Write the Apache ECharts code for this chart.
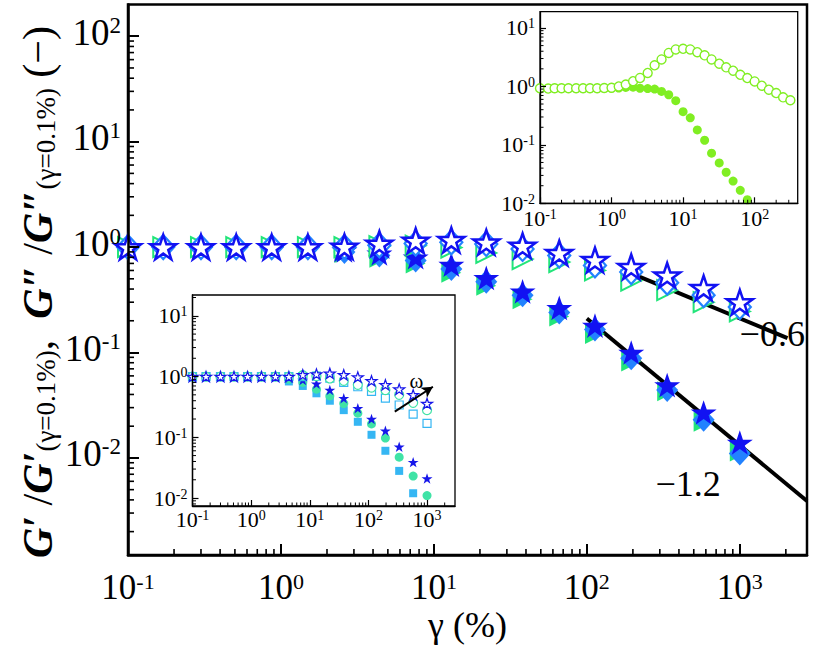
<!DOCTYPE html>
<html><head><meta charset="utf-8">
<script src="https://cdn.jsdelivr.net/npm/echarts@6/dist/echarts.min.js"></script>
<style>html,body{margin:0;padding:0;background:#fff}#c{width:814px;height:649px}</style>
</head><body><div id="c"></div>
<script>
// ---------- main plot data ----------
const gamma = [0.1, 0.17, 0.3, 0.51, 0.87, 1.5, 2.6, 4.4, 7.6, 13, 22, 38, 66, 113, 195, 335, 580, 1000];
const mainStarOpen = [1, 1, 1, 1, 1, 1, 1.01, 1.08, 1.15, 1.17, 1.11, 1.03, 0.88, 0.755, 0.65, 0.54, 0.41, 0.30];
const mainDiaOpen  = [1, 1, 1, 1, 1, 1, 1, 1.04, 1.08, 1.11, 1.07, 0.96, 0.83, 0.67, 0.58, 0.46, 0.35, 0.27];
const mainTriOpen  = [1, 1, 1, 1, 1, 1, 1, 1.02, 1.03, 0.99, 0.88, 0.77, 0.72, 0.60, 0.48, 0.39, 0.30, 0.245];
const mainStarFill = [1, 1, 1, 1, 1, 1, 0.93, 0.87, 0.80, 0.68, 0.51, 0.38, 0.265, 0.18, 0.10, 0.049, 0.027, 0.014];
const mainDiaFill  = [1, 1, 1, 1, 1, 1, 0.90, 0.83, 0.745, 0.62, 0.47, 0.35, 0.24, 0.165, 0.088, 0.044, 0.023, 0.011];
const mainTriFill  = [1, 1, 1, 1, 1, 1, 0.88, 0.79, 0.70, 0.57, 0.43, 0.32, 0.22, 0.15, 0.082, 0.043, 0.022, 0.0115];
// power-law guide lines (gamma, value)
const slope06 = [[210, 0.54], [2050, 0.137]];
const slope12 = [[100, 0.21], [2750, 0.0039]];
const slopeLabels = [[1630, 0.151, '\u22120.6'], [460, 0.0057, '\u22121.2']];

// ---------- inset 1 (lower left) ----------
const in1StarOpen = [1, 1, 1, 1, 1, 1, 1, 1, 1.07, 1.1, 1.13, 1.07, 0.98, 0.85, 0.73, 0.62, 0.5, 0.36];
const in1CircOpen = [1, 1, 1, 1, 1, 1, 1, 1, 1.05, 1.02, 0.93, 0.85, 0.73, 0.66, 0.6, 0.5, 0.37, 0.28];
const in1SqOpen   = [1, 1, 1, 1, 1, 1, 1, 1, 1.0, 1.02, 0.94, 0.8, 0.68, 0.57, 0.44, 0.34, 0.24, 0.17];
const in1StarFill = [1, 1, 1, 1, 1, 1, 1, 0.95, 0.88, 0.76, 0.6, 0.44, 0.3, 0.2, 0.128, 0.07, 0.039, 0.021];
const in1CircFill = [1, 1, 1, 1, 1, 1, 1, 0.9, 0.8, 0.62, 0.48, 0.36, 0.25, 0.166, 0.097, 0.047, 0.023, 0.011];
const in1SqFill   = [1, 1, 1, 1, 1, 1, 1, 0.83, 0.7, 0.53, 0.4, 0.28, 0.18, 0.11, 0.06, 0.028, 0.012, null];
const omegaArrow = [[282, 0.265], [1260, 0.68]];
const omegaLabel = [660, 0.83, '\u03c9'];

// ---------- inset 2 (upper right) ----------
const in2X = [0.1, 0.13, 0.16, 0.2, 0.25, 0.32, 0.4, 0.5, 0.63, 0.79, 1, 1.26, 1.58, 2, 2.5, 3.2, 4, 5, 6.3, 7.9,
  10, 12.6, 15.8, 20, 25, 32, 40, 50, 63, 79, 100, 126, 158, 200, 250, 316];
const in2Open = [0.93, 0.92, 0.93, 0.93, 0.93, 0.93, 0.93, 0.93, 0.93, 0.94, 0.95, 1.0, 1.08, 1.23, 1.4, 1.7, 2.3, 2.9, 3.75, 4.3,
  4.4, 4.3, 3.85, 3.4, 2.9, 2.45, 2.12, 1.86, 1.58, 1.39, 1.22, 1.03, 0.88, 0.77, 0.65, 0.58];
const in2Fill = [0.93, 0.92, 0.93, 0.93, 0.93, 0.93, 0.93, 0.93, 0.93, 0.93, 0.93, 0.94, 0.96, 0.97, 0.93, 0.92, 0.9, 0.82, 0.72, 0.57,
  0.37, 0.29, 0.18, 0.12, 0.072, 0.049, 0.034, 0.024, 0.0167, 0.0115];

// ---------- styling ----------
const FONT = '"Liberation Serif", "DejaVu Serif", serif';
const BLUE = '#1212f2', DBLUE = '#2282ff', GREEN = '#22e57a';
const CBLUE = '#1616ea', MINT = '#40e3a6', SKY = '#35b6f3', LIME = '#80ee22';
const STAR = 'path://M50,2 L61.5,36.5 L97.6,36.5 L68.4,57.6 L79.4,92 L50,70.8 L20.6,92 L31.6,57.6 L2.4,36.5 L38.5,36.5 Z';

function pairs(xs, ys) { const o = []; for (let i = 0; i < ys.length; i++) if (ys[i] != null) o.push([xs[i], ys[i]]); return o; }
function logLabel(v) { const l = Math.log10(v), e = Math.round(l); if (Math.abs(l - e) > 1e-6) return ''; return '{b|10}{s|' + e + '}'; }
function rich(big, small, lift) {
  return { b: { fontSize: big, fontFamily: FONT, color: '#000', padding: [0, 0, lift || 0, 0] },
           s: { fontSize: small, fontFamily: FONT, color: '#000', verticalAlign: 'top', lineHeight: Math.round(small * 0.6) } };
}
function minorVals(lo, hi) {
  const out = [];
  for (let n = Math.floor(Math.log10(lo)); n <= Math.ceil(Math.log10(hi)); n++)
    for (let k = 2; k <= 9; k++) { const v = k * Math.pow(10, n); if (v > lo && v < hi) out.push(v); }
  return out;
}
function axis(gi, min, max, o) {
  return {
    type: 'log', logBase: 10, gridIndex: gi, min, max, z: 5,
    axisLine: { show: true, lineStyle: { color: '#000', width: o.lw } },
    axisTick: { show: true, inside: true, length: o.tl, lineStyle: { color: '#000', width: o.tw } },
    splitLine: { show: false },
    axisLabel: { formatter: logLabel, rich: rich(o.fs, o.ss, o.lift), margin: o.margin, showMinLabel: o.showMin, showMaxLabel: false, hideOverlap: false }
  };
}
function minorSeries(xi, yi, vals, dir, fixed, len, w) {
  return { type: 'custom', xAxisIndex: xi, yAxisIndex: yi, silent: true, clip: false, z: 6,
    data: vals.map(v => dir === 'x' ? [v, fixed] : [fixed, v]),
    renderItem: (p, api) => {
      const c = api.coord([api.value(0), api.value(1)]);
      const shape = dir === 'x' ? { x1: c[0], y1: c[1], x2: c[0], y2: c[1] - len } : { x1: c[0], y1: c[1], x2: c[0] + len, y2: c[1] };
      return { type: 'line', shape, style: { stroke: '#000', lineWidth: w } };
    } };
}
function sc(idx, data, symbol, size, color, open, bw, rot) {
  return { type: 'scatter', xAxisIndex: idx, yAxisIndex: idx, data, symbol, symbolSize: size, symbolRotate: rot || 0,
    symbolKeepAspect: true, silent: true, clip: true,
    itemStyle: open ? { color: '#fff', borderColor: color, borderWidth: bw, opacity: 1 } : { color, opacity: 1 } };
}
function gtext(x, y, text, size) {
  return { type: 'text', x, y, z: 10, silent: true,
    style: { text: '{t|' + text + '}', align: 'center', verticalAlign: 'middle',
      rich: { t: { fontSize: size, fontFamily: FONT, color: '#000' } } } };
}

const R = { main: [0.1, 2750, 0.0012, 200], in1: [0.1, 3000, 0.0074, 22], in2: [0.1, 400, 0.01, 19] };
const G = [
  { left: 128, top: 4.5, width: 679, height: 550.5 },
  { left: 192.5, top: 295, width: 262.5, height: 211 },
  { left: 540, top: 11.7, width: 257.7, height: 191.6 }
];

const chart = echarts.init(document.getElementById('c'), null, { renderer: 'svg' });
chart.setOption({
  animation: false,
  backgroundColor: '#fff',
  grid: [
    Object.assign({ show: true, borderColor: '#000', borderWidth: 2.5, backgroundColor: 'transparent' }, G[0]),
    Object.assign({ show: true, borderColor: '#000', borderWidth: 1.3, backgroundColor: '#fff' }, G[1]),
    Object.assign({ show: true, borderColor: '#000', borderWidth: 1.3, backgroundColor: '#fff' }, G[2])
  ],
  xAxis: [
    axis(0, R.main[0], R.main[1], { lw: 2.5, tl: 11, tw: 2, fs: 35, ss: 22, margin: 15, showMin: true }),
    axis(1, R.in1[0], R.in1[1], { lw: 1.3, tl: 6, tw: 1.2, fs: 22, ss: 14, margin: 2, showMin: true }),
    axis(2, R.in2[0], R.in2[1], { lw: 1.3, tl: 6, tw: 1.2, fs: 22, ss: 14, margin: 4, showMin: true })
  ],
  yAxis: [
    axis(0, R.main[2], R.main[3], { lw: 2.5, tl: 11, tw: 2, fs: 37, ss: 23, margin: 7, showMin: false, lift: 8 }),
    axis(1, R.in1[2], R.in1[3], { lw: 1.3, tl: 6, tw: 1.2, fs: 22, ss: 14, margin: 5, showMin: false }),
    axis(2, R.in2[2], R.in2[3], { lw: 1.3, tl: 6, tw: 1.2, fs: 22, ss: 14, margin: 5, showMin: true })
  ],
  series: [
    // main filled
    sc(0, pairs(gamma, mainTriFill), 'triangle', 20, GREEN, false, 0, -90),
    sc(0, pairs(gamma, mainDiaFill), 'diamond', [22, 24], DBLUE, false),
    sc(0, pairs(gamma, mainStarFill), STAR, 26, BLUE, false),
    // main open
    sc(0, pairs(gamma, mainTriOpen), 'triangle', 20, GREEN, true, 2, -90),
    sc(0, pairs(gamma, mainDiaOpen), 'diamond', [22, 24], DBLUE, true, 2.2),
    sc(0, pairs(gamma, mainStarOpen), STAR, 26, BLUE, true, 2.5),
    // guide lines
    { type: 'line', xAxisIndex: 0, yAxisIndex: 0, data: slope06, symbol: 'none', silent: true, lineStyle: { color: '#000', width: 4 }, z: 1 },
    { type: 'line', xAxisIndex: 0, yAxisIndex: 0, data: slope12, symbol: 'none', silent: true, lineStyle: { color: '#000', width: 4 }, z: 1 },
    // inset 1
    sc(1, pairs(gamma, in1SqFill), 'rect', 8, SKY, false),
    sc(1, pairs(gamma, in1CircFill), 'circle', 9, MINT, false),
    sc(1, pairs(gamma, in1StarFill), STAR, 11, CBLUE, false),
    sc(1, pairs(gamma, in1SqOpen), 'rect', 8, SKY, true, 1.2),
    sc(1, pairs(gamma, in1CircOpen), 'circle', 9, MINT, true, 1.2),
    sc(1, pairs(gamma, in1StarOpen), STAR, 11, CBLUE, true, 1.2),
    { type: 'line', xAxisIndex: 1, yAxisIndex: 1, data: omegaArrow, symbol: 'none', silent: true, lineStyle: { width: 0 },
      markLine: { silent: true, symbol: ['none', 'arrow'], symbolSize: [9, 11], label: { show: false },
        lineStyle: { color: '#000', width: 2, type: 'solid' },
        data: [[{ coord: omegaArrow[0] }, { coord: omegaArrow[1] }]] } },
    // inset 2
    sc(2, pairs(in2X, in2Fill), 'circle', 9, LIME, false),
    sc(2, pairs(in2X, in2Open), 'circle', 9, LIME, true, 1.4),
    // minor ticks
    minorSeries(0, 0, minorVals(R.main[0], R.main[1]), 'x', R.main[2], 6, 1.6),
    minorSeries(0, 0, minorVals(R.main[2], R.main[3]), 'y', R.main[0], 6, 1.6),
    minorSeries(1, 1, minorVals(R.in1[0], R.in1[1]), 'x', R.in1[2], 3.5, 1),
    minorSeries(1, 1, minorVals(R.in1[2], R.in1[3]), 'y', R.in1[0], 3.5, 1),
    minorSeries(2, 2, minorVals(R.in2[0], R.in2[1]), 'x', R.in2[2], 3.5, 1),
    minorSeries(2, 2, minorVals(R.in2[2], R.in2[3]), 'y', R.in2[0], 3.5, 1)
  ]
});

// text annotations placed through the axes' own coordinate conversion
const px = (gi, v) => chart.convertToPixel({ xAxisIndex: gi, yAxisIndex: gi }, v);
const graphics = [];
slopeLabels.forEach(d => { const p = px(0, [d[0], d[1]]); graphics.push(gtext(p[0], p[1], d[2], 36)); });
{ const p = px(1, [omegaLabel[0], omegaLabel[1]]); graphics.push(gtext(p[0], p[1], omegaLabel[2], 21)); }
graphics.push(gtext(G[0].left + G[0].width / 2, G[0].top + G[0].height + 70, '\u03b3 (%)', 36));
graphics.push({
  type: 'text', x: 38, y: 292, rotation: Math.PI / 2, z: 10, silent: true,
  style: {
    text: '{g|G\u2032}{n| /}{g|G\u2032}{sub|(\u03b3=0.1%)}{n|,  }{g|G\u2033}{n| /}{g|G\u2033}{sub|(\u03b3=0.1%)}{n| (\u2212)}',
    align: 'center', verticalAlign: 'middle',
    rich: {
      g: { fontSize: 42, fontFamily: FONT, fontWeight: 'bold', fontStyle: 'italic', color: '#000' },
      n: { fontSize: 42, fontFamily: FONT, color: '#000' },
      sub: { fontSize: 27, fontFamily: FONT, color: '#000', verticalAlign: 'bottom', lineHeight: 12 }
    }
  }
});
chart.setOption({ graphic: graphics });
</script></body></html>
